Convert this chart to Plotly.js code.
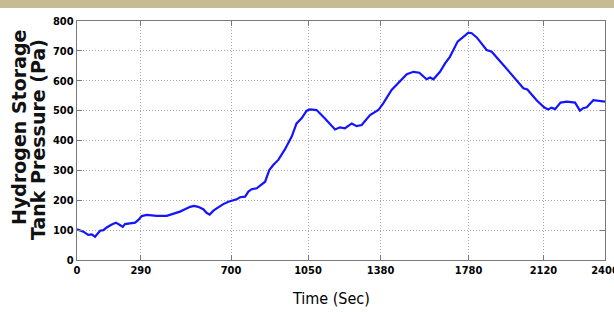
<!DOCTYPE html>
<html>
<head>
<meta charset="utf-8">
<script src="https://cdn.plot.ly/plotly-3.0.1.min.js"></script>
<style>
html,body{margin:0;padding:0;background:#fff;}
#chart{width:614px;height:312px;}
</style>
</head>
<body>
<div id="chart"></div>
<script>
const timeSec = [0,29,51,67,82,105,120,135,158,177,195,208,218,241,264,279,294,317,362,408,430,450,468,491,514,532,551,574,589,603,620,642,665,688,711,726,741,764,779,794,817,839,855,874,892,915,945,976,998,1021,1044,1059,1089,1127,1173,1195,1218,1249,1271,1294,1332,1370,1392,1430,1468,1499,1529,1556,1589,1605,1620,1650,1673,1695,1730,1748,1779,1794,1817,1862,1885,1938,1991,2029,2047,2089,2123,2142,2157,2173,2198,2226,2264,2286,2301,2317,2347,2370,2400];
const pressurePa = [103,95,84,86,78,98,100,109,119,125,117,111,120,123,125,134,147,151,148,148,153,160,162,170,178,181,178,170,158,152,165,176,187,195,200,203,210,212,229,237,240,251,262,301,318,335,370,413,457,474,500,504,502,474,437,444,441,457,448,452,485,502,524,569,599,622,630,627,605,611,605,630,658,680,731,742,761,759,745,703,697,653,608,575,571,535,511,504,510,505,527,530,527,500,508,511,535,532,530];
const xTickVals = [0,290,700,1050,1380,1780,2120,2400];
const yTickVals = [0,100,200,300,400,500,600,700,800];
const xTitle = 'Time (Sec)';
const yTitleLines = ['Hydrogen Storage', 'Tank Pressure (Pa)'];

const tickFont = {family:'"Liberation Sans Narrow","DejaVu Sans Condensed","Arial Narrow",sans-serif', size:11, color:'#000', weight:700};
const yTitleFont = {family:'"DejaVu Sans",Verdana,sans-serif', size:19, color:'#111', weight:700};

const trace = {
  x: timeSec, y: pressurePa, type:'scatter', mode:'lines',
  line:{color:'#1414ff', width:2.2}
};

const layout = {
  width:614, height:312,
  margin:{l:77, r:9, t:21, b:52, pad:0},
  paper_bgcolor:'#fff', plot_bgcolor:'#fff',
  showlegend:false,
  xaxis:{
    range:[0,2400], tickvals:xTickVals, ticktext:xTickVals.map(String),
    showgrid:true, gridcolor:'#a8a8a8', griddash:'1px,2px', gridwidth:1,
    zeroline:false, showline:true, linecolor:'#7a7a7a', linewidth:1.2, mirror:'ticks',
    ticks:'inside', ticklen:5, tickcolor:'#7a7a7a', tickfont:tickFont,
    ticklabeloverflow:'allow'
  },
  yaxis:{
    range:[0,800], tickvals:yTickVals, ticktext:yTickVals.map(String),
    showgrid:true, gridcolor:'#a8a8a8', griddash:'1px,2px', gridwidth:1,
    zeroline:false, showline:true, linecolor:'#7a7a7a', linewidth:1.2, mirror:'ticks',
    ticks:'inside', ticklen:5, tickcolor:'#7a7a7a', tickfont:tickFont
  },
  annotations:[
    {text:xTitle, xref:'paper', yref:'paper', x:0, y:0, xshift:331-77, yshift:-(298-260),
     xanchor:'center', yanchor:'middle', showarrow:false,
     font:{family:'"DejaVu Sans Condensed","Liberation Sans Narrow",sans-serif', size:16, color:'#000'}},
    {text:yTitleLines[0], xref:'paper', yref:'paper', x:0, y:(260-128)/239, xshift:19-77,
     xanchor:'center', yanchor:'middle', textangle:-90, showarrow:false, font:yTitleFont},
    {text:yTitleLines[1], xref:'paper', yref:'paper', x:0, y:(260-140)/239, xshift:38-77,
     xanchor:'center', yanchor:'middle', textangle:-90, showarrow:false, font:yTitleFont}
  ],
  shapes:[
    {type:'rect', xref:'paper', yref:'paper', ysizemode:'pixel', yanchor:1,
     x0:-0.2, x1:1.2, y0:13, y1:30, fillcolor:'#c5bc95', line:{width:0}, layer:'above'}
  ]
};

Plotly.newPlot('chart', [trace], layout, {displayModeBar:false, staticPlot:true});
</script>
</body>
</html>
